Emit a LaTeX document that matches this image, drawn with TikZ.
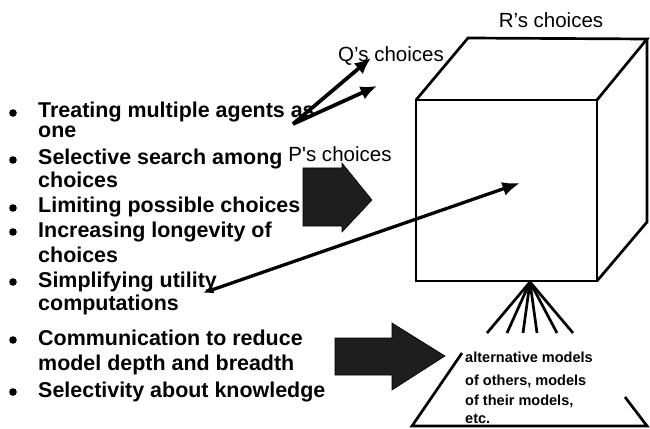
\documentclass[tikz,border=0pt]{standalone}
\usepackage{fontspec}
\setmainfont{Liberation Sans}
\usetikzlibrary{arrows.meta}
\definecolor{ink}{HTML}{000000}
\definecolor{shade}{HTML}{1E1E1E}
\tikzset{
  edge/.style={draw=ink, line width=2.3pt, line join=miter},
  fatarrow/.style={fill=shade, draw=ink, line width=0.5pt},
  thinarrow/.style={draw=ink, line width=3.2pt, -{Latex[length=14pt,width=12pt]}},
  item/.style={anchor=base west, inner sep=0pt, text=ink, font=\fontsize{18.3}{21}\selectfont\bfseries},
  dot/.style={circle, fill=ink, inner sep=0pt, minimum size=6.5pt},
  lab/.style={anchor=base, inner sep=0pt, text=ink, font=\fontsize{17.5}{21}\selectfont},
  note/.style={anchor=base west, inner sep=0pt, text=ink, font=\fontsize{12.4}{14}\selectfont\bfseries},
}

\begin{document}
\begin{tikzpicture}[x=0.03cm, y=-0.03cm]
  \useasboundingbox (0,0) rectangle (650,429);

  % bullet list
  \foreach \i/\y/\t in {1/118/Treating multiple agents as, 2/138/one,
      3/165/Selective search among, 4/188/choices, 5/213/Limiting possible choices,
      6/237/Increasing longevity of, 7/262/choices, 8/287/Simplifying utility,
      9/310/computations, 10/345/Communication to reduce,
      11/370/model depth and breadth, 12/397/Selectivity about knowledge}
    \node[item] (line\i) at (38,\y) {\t};
  \foreach \y in {118,165,213,237,287,345,397}
    \node[dot] at (13,\y-5) {};

  % cube of choices
  \coordinate (A) at (416,100);
  \coordinate (B) at (597,100);
  \coordinate (C) at (597,281);
  \coordinate (D) at (416,281);
  \coordinate (E) at (468,38);
  \coordinate (F) at (647,39);
  \coordinate (G) at (647,222);
  \draw[edge] (A) rectangle (C);
  \draw[edge] (A)--(E)--(F)--(B);
  \draw[edge] (F)--(G)--(C);

  \node[lab] (rlab) at (551,28) {R’s choices};
  \node[lab] (qlab) at (391,62) {Q’s choices};
  \node[lab] (plab) at (340,162) {P\textquotesingle s choices};

  % Q's choices
  \coordinate (qs) at (293,124);
  \coordinate (q1) at (371,58);
  \coordinate (q2) at (377,86);
  \draw[thinarrow] (qs)--(q1);
  \draw[thinarrow] (qs)--(q2);

  % P's choices
  \draw[fatarrow] (303,168)--(342,168)--(342,163)--(372,200)--(342,232)--(342,226)--(303,226)--cycle;

  % utility arrow
  \coordinate (us) at (203,293);
  \coordinate (ue) at (520,183);
  \draw[draw=ink, line width=2.8pt, {Latex[length=9pt,width=7pt]}-{Latex[length=15pt,width=12pt]}] (us)--(ue);

  % models of others
  \draw[fatarrow] (335,338)--(392,338)--(392,323)--(445,356)--(392,390)--(392,375)--(335,375)--cycle;
  \coordinate (apex) at (530,282);
  \foreach \x in {487,507,523,537,557,573}
    \draw[edge] (apex)--(\x,333);
  \draw[edge] (462,353)--(412,426)--(647,426)--(625,397);
  \node[note] (m1) at (465,362) {alternative models};
  \node[note] (m2) at (465,385) {of others, models};
  \node[note] (m3) at (465,405) {of their models,};
  \node[note] (m4) at (465,423) {etc.};
\end{tikzpicture}
\end{document}
